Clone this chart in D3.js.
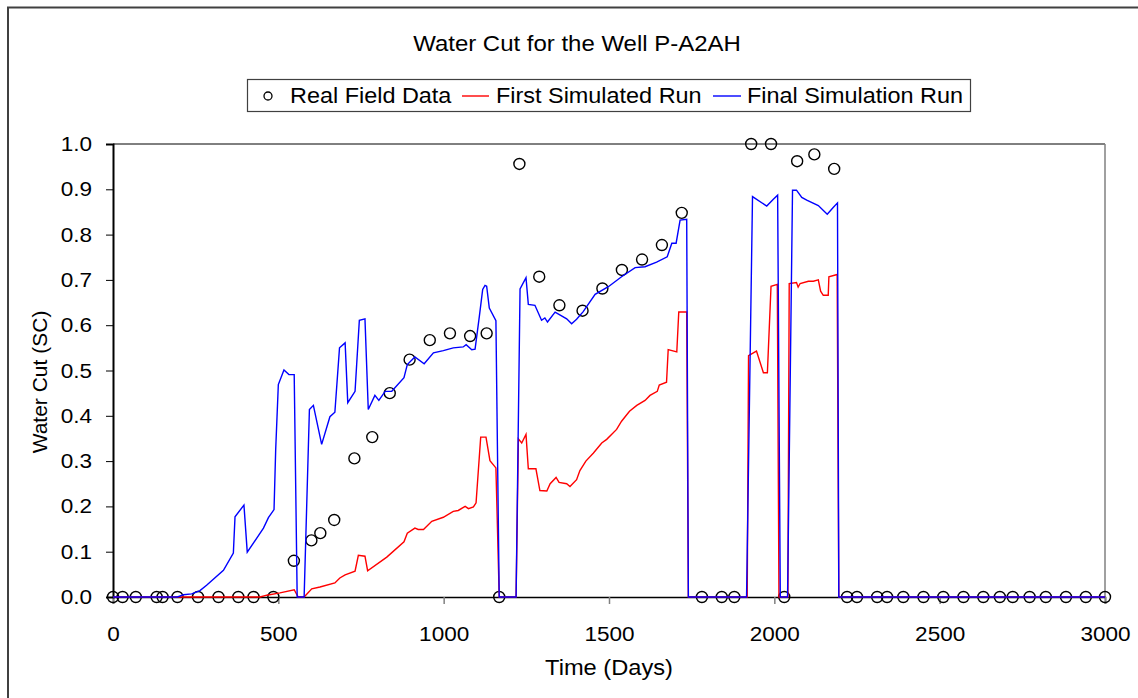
<!DOCTYPE html>
<html>
<head>
<meta charset="utf-8">
<script src="https://cdn.jsdelivr.net/npm/d3@7"></script>
<style>
  body { margin: 0; background: #fff; }
  svg text { font-family: "Liberation Sans", Arial, sans-serif; fill: #000; }
</style>
</head>
<body>
<div id="chart"></div>
<script>
// Real field data (circles)
var fieldDays = [0, 29, 69, 132, 150, 195, 257, 319, 379, 425, 485,
  547, 600, 627, 669, 730, 784, 837, 897, 958, 1019, 1080, 1130,
  1168,
  1229, 1289, 1350, 1420, 1480, 1539, 1600, 1660, 1720,
  1781, 1841, 1879,
  1930, 1990, 2030, 2069, 2121, 2181,
  2220, 2250, 2311, 2341, 2390, 2451, 2511, 2572, 2632, 2682, 2721, 2772, 2821, 2882, 2942, 3000];
var fieldCut = [0, 0, 0, 0, 0, 0, 0, 0, 0, 0, 0,
  0.080, 0.125, 0.141, 0.170, 0.306, 0.353, 0.450, 0.524, 0.567, 0.582, 0.576, 0.582,
  0,
  0.956, 0.707, 0.644, 0.632, 0.681, 0.722, 0.745, 0.777, 0.848,
  0, 0, 0,
  1.0, 1.0, 0, 0.962, 0.977, 0.945,
  0, 0, 0, 0, 0, 0, 0, 0, 0, 0, 0, 0, 0, 0, 0, 0];

// First simulated run (red)
var firstDays = [0, 445, 465, 505, 548, 560, 578, 601, 626, 671, 686, 702, 732, 742, 762, 770,
  828, 880, 890, 913, 923, 939, 964, 999, 1029, 1044, 1065, 1075, 1090, 1098, 1112, 1128,
  1140, 1158, 1168, 1219, 1226, 1236, 1249, 1256, 1279, 1291, 1312, 1322, 1340, 1349, 1372,
  1382, 1402, 1412, 1430, 1453, 1478, 1493, 1523, 1538, 1562, 1584, 1609, 1624, 1646, 1652,
  1674, 1679, 1705, 1711, 1735, 1740, 1918, 1922, 1946, 1967, 1979, 1990, 2009, 2014, 2041,
  2045, 2067, 2072, 2078, 2103, 2118, 2133, 2140, 2148, 2163, 2165, 2190, 2195, 3000];
var firstCut = [0, 0, 0.004, 0.009, 0.016, 0, 0, 0.018, 0.022, 0.031, 0.042, 0.049, 0.057, 0.092, 0.090, 0.058,
  0.088, 0.122, 0.141, 0.152, 0.149, 0.149, 0.167, 0.176, 0.189, 0.191, 0.200, 0.195, 0.199, 0.208, 0.353, 0.353,
  0.301, 0.285, 0, 0, 0.349, 0.340, 0.359, 0.283, 0.283, 0.235, 0.234, 0.250, 0.264, 0.253, 0.250,
  0.244, 0.259, 0.279, 0.300, 0.318, 0.340, 0.348, 0.370, 0.388, 0.410, 0.423, 0.434, 0.445, 0.454, 0.468,
  0.474, 0.546, 0.541, 0.629, 0.629, 0, 0, 0.533, 0.543, 0.495, 0.495, 0.686, 0.690, 0, 0,
  0.692, 0.694, 0.684, 0.692, 0.697, 0.697, 0.700, 0.675, 0.666, 0.666, 0.707, 0.712, 0, 0];

// Final simulation run (blue)
var finalDays = [0, 195, 213, 238, 263, 283, 334, 364, 369, 396, 406, 455, 470, 487, 492, 500,
  517, 532, 548, 557, 578, 594, 606, 631, 656, 671, 685, 702, 710, 732, 745, 762, 772, 792,
  804, 823, 843, 880, 890, 913, 941, 969, 999, 1029, 1059, 1068, 1085, 1095, 1108, 1118,
  1125, 1130, 1138, 1158, 1168, 1219, 1231, 1249, 1256, 1276, 1296, 1306, 1314, 1337, 1372,
  1387, 1402, 1422, 1458, 1498, 1538, 1579, 1609, 1644, 1676, 1690, 1703, 1715, 1735, 1740,
  1916, 1934, 1977, 1997, 2010, 2018, 2040, 2055, 2067, 2083, 2098, 2133, 2160, 2178, 2191,
  2195, 3000];
var finalCut = [0, 0, 0.005, 0.007, 0.014, 0.026, 0.059, 0.097, 0.177, 0.203, 0.099, 0.152, 0.175, 0.193, 0.325, 0.469,
  0.501, 0.491, 0.491, 0, 0, 0.414, 0.423, 0.337, 0.398, 0.408, 0.550, 0.561, 0.429, 0.454, 0.611, 0.614, 0.414, 0.445,
  0.434, 0.454, 0.454, 0.484, 0.513, 0.530, 0.515, 0.539, 0.544, 0.550, 0.552, 0.557, 0.546, 0.547, 0.620, 0.679,
  0.688, 0.686, 0.638, 0.610, 0, 0, 0.680, 0.705, 0.646, 0.644, 0.611, 0.616, 0.607, 0.629, 0.614,
  0.603, 0.613, 0.630, 0.668, 0.685, 0.707, 0.727, 0.729, 0.739, 0.751, 0.781, 0.781, 0.832, 0.834, 0,
  0, 0.884, 0.863, 0.878, 0.887, 0, 0, 0.898, 0.898, 0.882, 0.876, 0.864, 0.845, 0.860, 0.870,
  0, 0];

var xTicks = [0, 500, 1000, 1500, 2000, 2500, 3000];
var yTicks = [0, 0.1, 0.2, 0.3, 0.4, 0.5, 0.6, 0.7, 0.8, 0.9, 1.0];

var W = 1138, H = 698;
var plot = { left: 113, top: 144, right: 1105, bottom: 597 };
var stretch = 'scale(1.1,1)';
var font = '"Liberation Sans", Arial, sans-serif';

var svg = d3.select('#chart')
    .append('svg')
    .attr('width', W)
    .attr('height', H);

// outer frame
svg.append('path')
    .attr('d', 'M8,' + H + ' V7.5 H' + W)
    .attr('fill', 'none')
    .attr('stroke', '#404040')
    .attr('stroke-width', 2);

var x = d3.scaleLinear().domain([0, 3000]).range([plot.left, plot.right]);
var y = d3.scaleLinear().domain([0, 1]).range([plot.bottom, plot.top]);

// plot frame: top black, right grey
svg.append('line')
    .attr('x1', plot.left).attr('x2', plot.right)
    .attr('y1', plot.top).attr('y2', plot.top)
    .attr('stroke', '#000').attr('stroke-width', 1);
svg.append('line')
    .attr('x1', plot.right).attr('x2', plot.right)
    .attr('y1', plot.top).attr('y2', plot.bottom)
    .attr('stroke', '#808080').attr('stroke-width', 1.5);

// Axes
var xAxis = svg.append('g')
    .attr('transform', 'translate(0,' + plot.bottom + ')')
    .call(d3.axisBottom(x).tickValues(xTicks).tickSize(7).tickPadding(22).tickFormat(d3.format('d')));
xAxis.select('.domain').attr('stroke', '#000').attr('stroke-width', 1.5);
xAxis.selectAll('.tick line').attr('stroke', '#808080').attr('stroke-width', 1.5);
xAxis.selectAll('.tick text')
    .attr('font-size', 20.5)
    .attr('font-family', font)
    .attr('fill', '#000')
    .attr('transform', stretch);

var yAxis = svg.append('g')
    .attr('transform', 'translate(' + plot.left + ',0)')
    .call(d3.axisLeft(y).tickValues(yTicks).tickSize(7).tickPadding(12).tickFormat(d3.format('.1f')));
yAxis.select('.domain').attr('stroke', '#000').attr('stroke-width', 2);
yAxis.selectAll('.tick line').attr('stroke', '#000').attr('stroke-width', 1);
yAxis.selectAll('.tick text')
    .attr('font-size', 20.5)
    .attr('font-family', font)
    .attr('fill', '#000')
    .attr('transform', stretch);

// Field data circles
var field = fieldDays.map(function(d, i) { return [d, fieldCut[i]]; });
svg.append('g').selectAll('circle')
    .data(field)
    .enter()
    .append('circle')
    .attr('cx', function(d) { return x(d[0]); })
    .attr('cy', function(d) { return y(d[1]); })
    .attr('r', 5.5)
    .attr('fill', 'none')
    .attr('stroke', '#000')
    .attr('stroke-width', 1.4);

// Simulation lines
var line = d3.line()
    .x(function(d) { return x(d[0]); })
    .y(function(d) { return y(d[1]); });

svg.append('path')
    .datum(firstDays.map(function(d, i) { return [d, firstCut[i]]; }))
    .attr('d', line)
    .attr('fill', 'none')
    .attr('stroke', '#ff0000')
    .attr('stroke-width', 1.4);

svg.append('path')
    .datum(finalDays.map(function(d, i) { return [d, finalCut[i]]; }))
    .attr('d', line)
    .attr('fill', 'none')
    .attr('stroke', '#0000ff')
    .attr('stroke-width', 1.4);

// helper for horizontally stretched text
function label(txt, px, py, anchor, size) {
  svg.append('g')
      .attr('transform', 'translate(' + px + ',' + py + ')')
    .append('text')
      .attr('transform', stretch)
      .attr('text-anchor', anchor)
      .attr('font-size', size)
      .text(txt);
}

// Title
label('Water Cut for the Well P-A2AH', 577, 51, 'middle', 21.8);

// Axis titles
label('Time (Days)', 609, 675, 'middle', 21.5);
svg.append('g')
    .attr('transform', 'translate(47,382) rotate(-90)')
  .append('text')
    .attr('text-anchor', 'middle')
    .attr('font-size', 21)
    .text('Water Cut (SC)');

// Legend
svg.append('rect')
    .attr('x', 247.5).attr('y', 79.5)
    .attr('width', 723).attr('height', 32)
    .attr('fill', '#fff')
    .attr('stroke', '#404040')
    .attr('stroke-width', 1.2);
svg.append('circle')
    .attr('cx', 268).attr('cy', 96).attr('r', 4)
    .attr('fill', 'none').attr('stroke', '#000').attr('stroke-width', 1.3);
label('Real Field Data', 290, 103, 'start', 21.3);
svg.append('line')
    .attr('x1', 462).attr('x2', 489).attr('y1', 96).attr('y2', 96)
    .attr('stroke', '#ff0000').attr('stroke-width', 1.4);
label('First Simulated Run', 496, 103, 'start', 21.3);
svg.append('line')
    .attr('x1', 713).attr('x2', 741).attr('y1', 96).attr('y2', 96)
    .attr('stroke', '#0000ff').attr('stroke-width', 1.4);
label('Final Simulation Run', 747, 103, 'start', 21.3);
</script>
</body>
</html>
